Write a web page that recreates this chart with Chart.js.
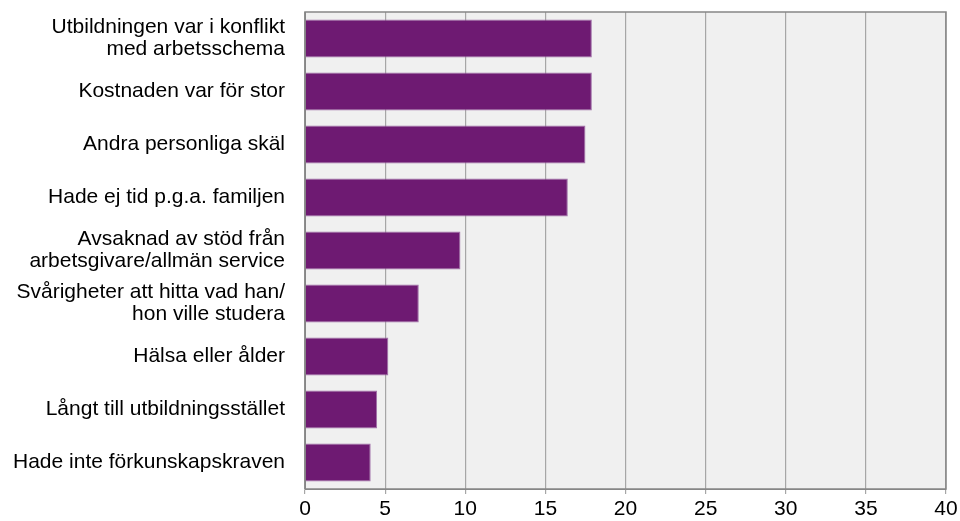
<!DOCTYPE html>
<html>
<head>
<meta charset="utf-8">
<script src="https://cdn.jsdelivr.net/npm/chart.js@4"></script>
<style>
  html, body { margin: 0; padding: 0; background: #fff; }
  #wrap { width: 960px; height: 521px; }
</style>
</head>
<body>
<div id="wrap"><canvas id="c"></canvas></div>
<script>
var categories = [
    ['Utbildningen var i konflikt', 'med arbetsschema'],
    'Kostnaden var för stor',
    'Andra personliga skäl',
    'Hade ej tid p.g.a. familjen',
    ['Avsaknad av stöd från', 'arbetsgivare/allmän service'],
    ['Svårigheter att hitta vad han/', 'hon ville studera'],
    'Hälsa eller ålder',
    'Långt till utbildningsstället',
    'Hade inte förkunskapskraven'
];
var values = [17.9, 17.9, 17.5, 16.4, 9.7, 7.1, 5.2, 4.5, 4.1];
var xTicks = [0, 5, 10, 15, 20, 25, 30, 35, 40];

// grey plot background and frame
var plotBg = {
    id: 'plotBg',
    beforeDraw: function(chart) {
        var a = chart.chartArea, ctx = chart.ctx;
        ctx.save();
        ctx.fillStyle = '#F0F0F0';
        ctx.fillRect(a.left, a.top, a.right - a.left, a.bottom - a.top);
        ctx.restore();
    },
    afterDraw: function(chart) {
        var a = chart.chartArea, ctx = chart.ctx;
        ctx.save();
        ctx.strokeStyle = '#868686';
        ctx.lineWidth = 1.5;
        ctx.strokeRect(a.left, a.top, a.right - a.left, a.bottom - a.top);
        ctx.restore();
    }
};

new Chart(document.getElementById('c'), {
    type: 'bar',
    data: {
        labels: categories,
        datasets: [{
            data: values,
            backgroundColor: '#6E1A72',
            borderColor: '#A070A8',
            borderWidth: 1,
            categoryPercentage: 0.72,
            barPercentage: 1
        }]
    },
    options: {
        indexAxis: 'y',
        responsive: true,
        maintainAspectRatio: false,
        animation: false,
        layout: { padding: { top: 12, right: 14, left: 0, bottom: 0 } },
        plugins: { legend: { display: false }, tooltip: { enabled: false } },
        scales: {
            x: {
                min: 0,
                max: 40,
                afterBuildTicks: function(scale) {
                    scale.ticks = xTicks.map(function(v) { return { value: v }; });
                },
                afterFit: function(scale) {
                    scale.height = 32;
                    scale.paddingLeft = 0;
                    scale.paddingRight = 0;
                },
                grid: { color: '#A6A6A6', lineWidth: 1.2, tickLength: 5 },
                border: { display: true, color: '#868686' },
                ticks: {
                    color: '#000',
                    padding: 3,
                    maxRotation: 0,
                    font: { family: 'Liberation Sans', size: 21 }
                }
            },
            y: {
                afterFit: function(scale) {
                    scale.width = 305;
                    scale.paddingTop = 0;
                    scale.paddingBottom = 0;
                },
                grid: { display: false, drawTicks: false },
                border: { display: true, color: '#868686' },
                ticks: {
                    color: '#000',
                    padding: 20,
                    font: { family: 'Liberation Sans', size: 21, lineHeight: 1.05 }
                }
            }
        }
    },
    plugins: [plotBg]
});
</script>
</body>
</html>
